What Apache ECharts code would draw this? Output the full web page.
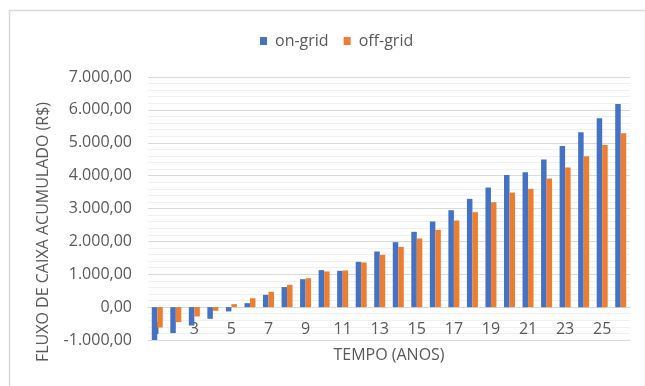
<!DOCTYPE html>
<html>
<head>
<meta charset="utf-8">
<script src="https://cdn.jsdelivr.net/npm/echarts@6/dist/echarts.min.js"></script>
<style>html,body{margin:0;padding:0;background:#fff;}#c{width:645px;height:386px;}</style>
</head>
<body>
<div id="c"></div>
<script>
var years = ['1','2','3','4','5','6','7','8','9','10','11','12','13','14','15','16','17','18','19','20','21','22','23','24','25','26'];
var onGrid = [-1000,-790,-560,-355,-130,120,375,610,850,1125,1105,1378,1692,1976,2290,2604,2948,3293,3637,4022,4103,4488,4904,5319,5745,6180];
var offGrid = [-620,-455,-285,-110,90,270,465,680,880,1085,1115,1358,1590,1834,2087,2350,2634,2888,3191,3485,3597,3911,4245,4590,4934,5289];
var yTicks = { min: -1000, max: 7000, interval: 1000 };
var seriesNames = ['on-grid', 'off-grid'];
var yTitle = 'FLUXO DE CAIXA ACUMULADO (R$)';
var xTitle = 'TEMPO (ANOS)';

function fmtBR(v) {
  var neg = v < 0;
  var a = Math.abs(v);
  var s = Math.floor(a).toString().replace(/\B(?=(\d{3})+(?!\d))/g, '.');
  return (neg ? '-' : '') + s + ',00';
}

var font = '"Open Sans", sans-serif';
var txt = '#595959';
var gridTop = 77, gridBottom = 46, chartH = 386;
var plotH = chartH - gridTop - gridBottom;
// x axis drawn at the zero line: shift up by the pixel height of the part below zero
var zeroOffset = -plotH * (0 - yTicks.min) / (yTicks.max - yTicks.min);

var chart = echarts.init(document.getElementById('c'));
chart.setOption({
  animation: false,
  backgroundColor: '#fff',
  textStyle: { fontFamily: font },
  grid: { left: 148, right: 15, top: gridTop, bottom: gridBottom, containLabel: false, outerBoundsMode: 'none' },
  legend: {
    top: 28, left: 255,
    itemWidth: 7, itemHeight: 8, itemGap: 15,
    icon: 'rect',
    textStyle: { color: txt, fontSize: 16, fontFamily: font, padding: [0, 0, 0, 3] },
    data: seriesNames
  },
  xAxis: {
    type: 'category',
    data: years,
    position: 'bottom',
    offset: zeroOffset,
    axisLine: { show: true, onZero: false, lineStyle: { color: '#d9d9d9', width: 1 } },
    axisTick: { show: false },
    axisLabel: { interval: 1, color: txt, fontSize: 16, margin: 14, fontFamily: font },
    name: xTitle,
    nameLocation: 'middle',
    nameGap: 40,
    nameTextStyle: { color: txt, fontSize: 16, fontFamily: font }
  },
  yAxis: {
    type: 'value',
    min: yTicks.min, max: yTicks.max, interval: yTicks.interval,
    axisLine: { show: false },
    axisTick: { show: false },
    axisLabel: { color: txt, fontSize: 16, margin: 16, fontFamily: font, formatter: fmtBR },
    splitLine: { lineStyle: { color: '#d9d9d9', width: 1 } },
    minorTick: { show: false, splitNumber: 5 },
    minorSplitLine: { show: true, lineStyle: { color: '#f0f0f0', width: 1 } }
  },
  series: [
    { name: seriesNames[0], type: 'bar', data: onGrid, barWidth: 5.5, barGap: '0%', itemStyle: { color: '#4472C4' } },
    { name: seriesNames[1], type: 'bar', data: offGrid, barWidth: 5.5, barGap: '0%', itemStyle: { color: '#ED7D31' } }
  ],
  graphic: [
    { type: 'rect', left: 7, top: 8, shape: { x: 0, y: 0, width: 636, height: 390 }, style: { fill: 'none', stroke: '#d9d9d9', lineWidth: 1.5 }, silent: true },
    { type: 'text', x: 43, y: 232, rotation: Math.PI / 2,
      style: { text: yTitle, fill: txt, fontSize: 16, fontFamily: font, textAlign: 'center', textVerticalAlign: 'middle' } }
  ]
});
</script>
</body>
</html>
